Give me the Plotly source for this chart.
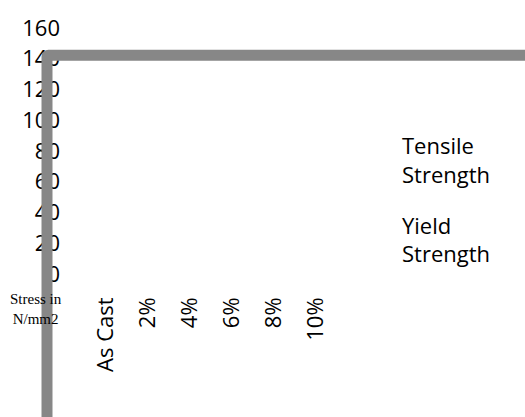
import plotly.graph_objects as go

categories = ["As Cast", "2%", "4%", "6%", "8%", "10%"]
tensile_strength = [None, None, None, None, None, None]
yield_strength = [None, None, None, None, None, None]
y_ticks = [0, 20, 40, 60, 80, 100, 120, 140, 160]

W, H = 525, 417
L, R, T, B = 85, 188, 22, 143
PW, PH = W - L - R, H - T - B


def px(x):
    return (x - L) / PW


def py(y):
    return (H - B - y) / PH


fig = go.Figure()
fig.add_trace(go.Bar(x=categories, y=tensile_strength, name="Tensile<br>Strength",
                     legendgroup="tensile",
                     marker=dict(color="rgba(0,0,0,0)", line=dict(width=0))))
fig.add_trace(go.Bar(x=categories, y=yield_strength, name="Yield<br>Strength",
                     legendgroup="yield",
                     marker=dict(color="rgba(0,0,0,0)", line=dict(width=0))))

font = dict(family="Open Sans", size=22, color="#000000")

fig.update_layout(
    width=W, height=H,
    margin=dict(l=L, r=R, t=T, b=B, pad=0),
    paper_bgcolor="white", plot_bgcolor="white",
    font=font,
    showlegend=True,
    legend=dict(xref="container", yref="container", x=362 / W, y=1 - 125 / H,
                xanchor="left", yanchor="top", font=font, itemwidth=30,
                bgcolor="rgba(0,0,0,0)", traceorder="grouped", tracegroupgap=19),
    xaxis=dict(type="category", categoryorder="array", categoryarray=categories,
               range=[-0.5, 5.5], showgrid=False, showline=False, zeroline=False,
               ticks="", tickangle=-90, tickfont=font, ticklabelstandoff=18),
    yaxis=dict(range=[0, 160], tickvals=y_ticks, showgrid=False, showline=False,
               zeroline=False, ticks="", tickfont=font, ticklabelstandoff=24),
)

fig.add_annotation(text="Stress in<br>N/mm2", xref="paper", yref="paper",
                   x=px(35.5), y=py(310), showarrow=False, xanchor="center", yanchor="middle",
                   font=dict(family="Liberation Serif", size=15, color="#000000"))

r = 1.5
path = (f"M {px(47)},{py(440)} L {px(47)},{py(50 + r)} "
        f"Q {px(47)},{py(50)} {px(47 + r)},{py(50)} L {px(560)},{py(50)}")
fig.add_shape(type="path", path=path, xref="paper", yref="paper", layer="above",
              line=dict(color="#878787", width=11))

fig.write_html("out.html")
